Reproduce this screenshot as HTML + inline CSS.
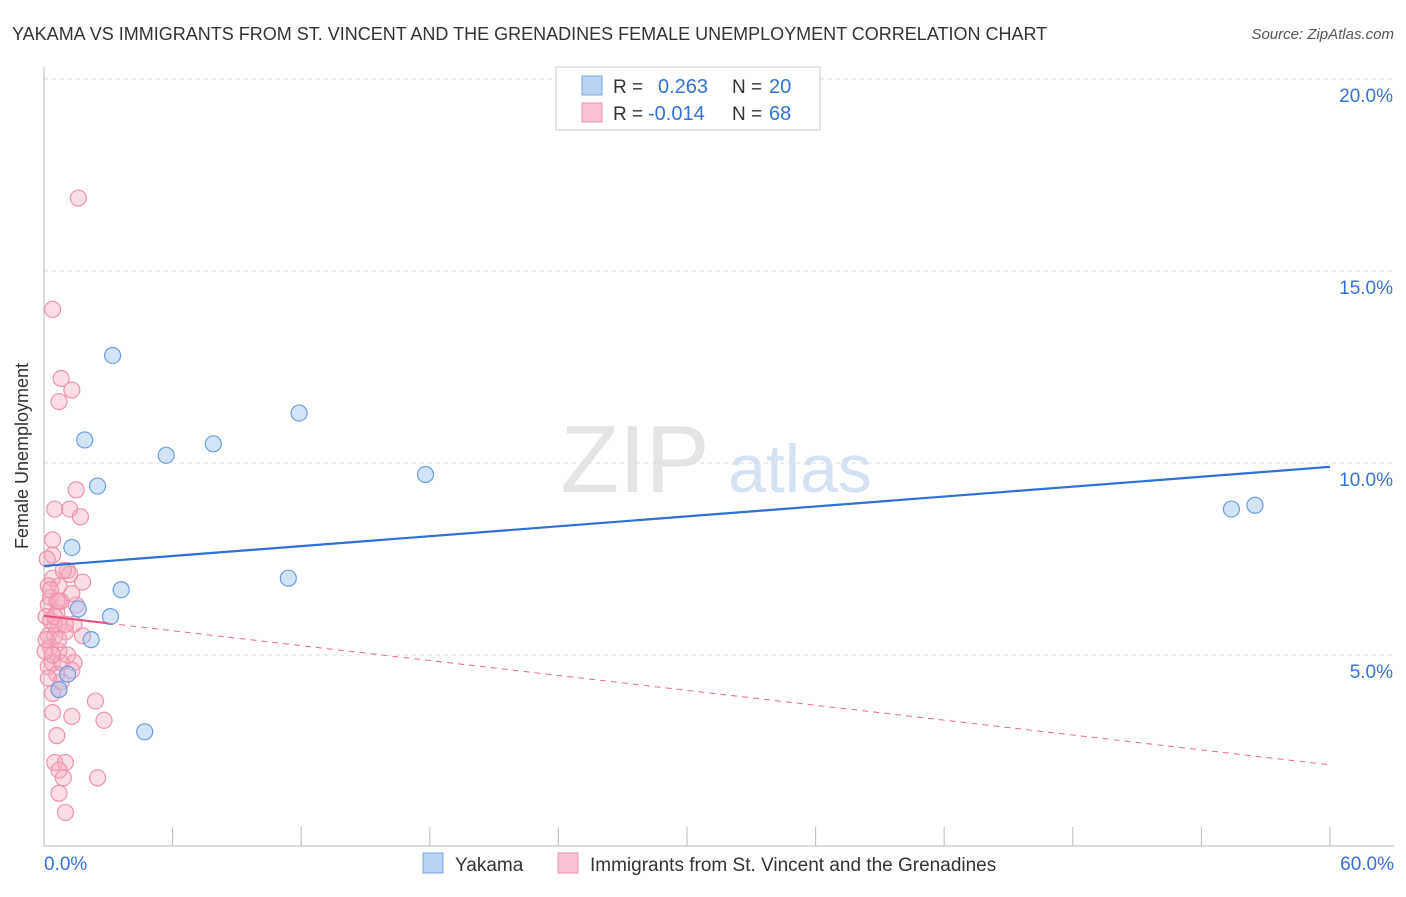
<!DOCTYPE html>
<html><head><meta charset="utf-8"><style>
body{margin:0;background:#fff;font-family:"Liberation Sans",sans-serif}
svg text{font-family:"Liberation Sans",sans-serif}
</style></head><body>
<svg id="chart" width="1406" height="892" viewBox="0 0 1406 892">
<text x="12" y="40" font-size="18" fill="#333">YAKAMA VS IMMIGRANTS FROM ST. VINCENT AND THE GRENADINES FEMALE UNEMPLOYMENT CORRELATION CHART</text>
<text x="1394" y="39" font-size="15" fill="#555" font-style="italic" text-anchor="end">Source: ZipAtlas.com</text>
<text x="28" y="456" font-size="18" fill="#333" text-anchor="middle" transform="rotate(-90 28 456)">Female Unemployment</text>
<g><text x="635" y="492" font-size="96" fill="#e4e4e4" text-anchor="middle" font-family="Liberation Serif,serif">ZIP</text><text x="800" y="492" font-size="68" fill="#d5e2f3" text-anchor="middle">atlas</text></g>
<g id="grid"></g><g id="axes"></g><g id="marks"></g>
<g>
<rect x="556" y="67" width="264" height="63" fill="#fff" stroke="#ccc"/>
<rect x="582" y="76" width="20" height="19" fill="#b9d2f3" stroke="#7aa6e0"/>
<rect x="582" y="103" width="20" height="19" fill="#f9c4d3" stroke="#ec91ab"/>
<text x="613" y="93" font-size="19" fill="#333">R = </text><text x="658" y="93" font-size="20" fill="#3572d6">0.263</text>
<text x="732" y="93" font-size="19" fill="#333">N = </text><text x="769" y="93" font-size="20" fill="#3572d6">20</text>
<text x="613" y="120" font-size="19" fill="#333">R = </text><text x="648" y="120" font-size="20" fill="#3572d6">-0.014</text>
<text x="732" y="120" font-size="19" fill="#333">N = </text><text x="769" y="120" font-size="20" fill="#3572d6">68</text>
</g>
<g>
<rect x="423" y="853" width="20" height="20" fill="#b9d2f3" stroke="#7aa6e0"/>
<text x="455" y="871" font-size="19" fill="#333">Yakama</text>
<rect x="558" y="853" width="20" height="20" fill="#f9c4d3" stroke="#ec91ab"/>
<text x="590" y="871" font-size="19" fill="#333">Immigrants from St. Vincent and the Grenadines</text>
</g>
</svg>
<script>
const yTicks=[5,10,15,20];
const yTickLabels=["5.0%","10.0%","15.0%","20.0%"];
const xTickLabels=["0.0%","60.0%"];
const yakamaX=[3.2,1.9,5.7,7.9,11.9,2.5,1.3,3.6,1.6,3.1,2.2,1.1,0.7,4.7,11.4,17.8,55.4,56.5];
const yakamaY=[12.8,10.6,10.2,10.5,11.3,9.4,7.8,6.7,6.2,6.0,5.4,4.5,4.1,3.0,7.0,9.7,8.8,8.9];
const immX=[1.6,0.4,0.8,1.3,0.7,1.5,0.5,1.2,1.7,0.4,0.4,1.1,0.4,1.8,0.2,0.7,0.3,0.8,0.2,0.6,1.4,0.3,0.7,1.0,0.2,0.5,1.8,0.3,0.7,1.1,1.4,0.4,0.2,0.6,1.3,0.8,0.7,2.4,0.4,1.3,2.8,0.6,0.5,1.0,0.7,0.9,2.5,0.7,1.0,0.5,0.7,0.1,0.3,0.6,1.2,1.5,0.05,0.2,0.4,0.8,0.15,0.9,0.5,1.0,0.1,0.4,0.7,1.3];
const immY=[16.9,14.0,12.2,11.9,11.6,9.3,8.8,8.8,8.6,8.0,7.6,7.2,7.0,6.9,6.8,6.8,6.5,6.4,6.3,6.1,5.8,5.9,5.8,5.6,5.5,5.5,5.5,5.2,5.1,5.0,4.8,4.8,4.7,4.5,4.6,4.3,4.1,3.8,3.5,3.4,3.3,2.9,2.2,2.2,2.0,1.8,1.8,1.4,0.9,5.8,5.4,6.0,6.7,6.4,7.1,6.3,5.1,4.4,4.0,4.8,7.5,7.2,6.0,5.8,5.4,5.0,6.4,6.6];
const blueTrend=[7.32,9.90];
const pinkTrend=[6.02,2.14];
const X=v=>44+v/60*1286, Y=v=>847-v*38.4;
const NS="http://www.w3.org/2000/svg";
function mk(tag,attrs,parent){const e=document.createElementNS(NS,tag);for(const k in attrs)e.setAttribute(k,attrs[k]);parent.appendChild(e);return e;}
const grid=document.getElementById('grid'),axes=document.getElementById('axes'),marks=document.getElementById('marks');
yTicks.forEach((t,i)=>{
 const l=mk('line',{x1:44,x2:1394,y1:Y(t),y2:Y(t),stroke:'#ddd','stroke-dasharray':'4 4'},grid);
 
 
 const tx=mk('text',{x:1393,y:Y(t)+23,'font-size':19,fill:'#3572d6','text-anchor':'end'},axes);
 tx.textContent=yTickLabels[i];
 
 
});
const ax=mk('line',{x1:44,x2:1394,y1:846,y2:846,stroke:'#bbb'},axes);


const ay=mk('line',{x1:44,x2:44,y1:67,y2:846,stroke:'#bbb'},axes);


for(let i=1;i<=10;i++){const t=mk('line',{x1:X(i*6),x2:X(i*6),y1:827,y2:846,stroke:'#bbb'},axes);
 
 }
[[0,'start',44],[60,'end',1394]].forEach((d,i)=>{const t=mk('text',{x:d[2],y:870,'font-size':19,fill:'#3572d6','text-anchor':d[1]},axes);t.textContent=xTickLabels[i];
 
 });
immX.forEach((x,i)=>{const c=mk('circle',{cx:X(x),cy:Y(immY[i]),r:8,fill:'rgba(246,170,192,0.4)',stroke:'#ee93ad','stroke-width':1.2},marks);
 
 });
yakamaX.forEach((x,i)=>{const c=mk('circle',{cx:X(x),cy:Y(yakamaY[i]),r:8,fill:'rgba(160,195,240,0.45)',stroke:'#6f9ddd','stroke-width':1.2},marks);
 
 });
const bl=mk('line',{x1:X(0),y1:Y(blueTrend[0]),x2:X(60),y2:Y(blueTrend[1]),stroke:'#2f6fd6','stroke-width':2.2},marks);


const pv=x=>pinkTrend[0]+(pinkTrend[1]-pinkTrend[0])*x/60;
const pd=mk('line',{x1:X(3),y1:Y(pv(3)),x2:X(60),y2:Y(pv(60)),stroke:'#e86b92','stroke-width':1,'stroke-dasharray':'6 5'},marks);


const ps=mk('line',{x1:X(0),y1:Y(pv(0)),x2:X(3),y2:Y(pv(3)),stroke:'#e2557f','stroke-width':2.2},marks);


</script>
</body></html>
